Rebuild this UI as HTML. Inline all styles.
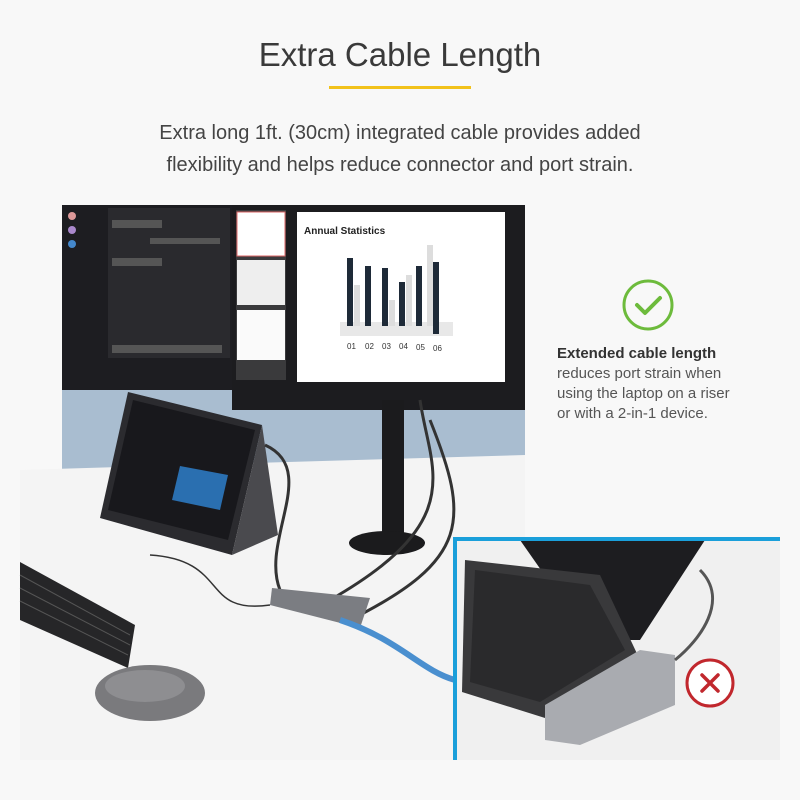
<!DOCTYPE html>
<html><head><style>
body{margin:0;width:800px;height:800px;background:#f8f8f8;position:relative;overflow:hidden;font-family:"Liberation Sans",sans-serif}
.t{position:absolute;left:0;width:800px;text-align:center;color:#333}
</style></head><body>
<div class="t" style="top:36px;font-size:33px;font-weight:300;color:#3a3a3a">Extra Cable Length</div>
<div style="position:absolute;left:329px;top:86px;width:142px;height:3px;background:#f2c21b"></div>
<div class="t" style="top:117px;font-size:20px;line-height:32px;color:#444">Extra long 1ft. (30cm) integrated cable provides added<br>flexibility and helps reduce connector and port strain.</div>

<svg style="position:absolute;left:0;top:0" width="800" height="800">
<rect x="62" y="380" width="463" height="90" fill="#a9bdd0"/>
<polygon points="20,470 525,455 525,760 20,760" fill="#f4f4f4"/>
<!-- monitor 1 -->
<rect x="62" y="205" width="172" height="185" fill="#1d1d21"/>
<rect x="108" y="208" width="122" height="150" fill="#2a2a2e"/>
<g fill="#555"><rect x="68" y="212" width="8" height="8" rx="4" fill="#d99"/><rect x="68" y="226" width="8" height="8" rx="4" fill="#a8c"/><rect x="68" y="240" width="8" height="8" rx="4" fill="#48c"/><rect x="112" y="220" width="50" height="8"/><rect x="150" y="238" width="70" height="6"/><rect x="112" y="258" width="50" height="8"/><rect x="112" y="345" width="110" height="8"/></g>
<!-- monitor 2 -->
<rect x="232" y="205" width="293" height="205" fill="#1c1c1f"/>
<rect x="236" y="210" width="50" height="170" fill="#3a3a3c"/>
<rect x="237" y="212" width="48" height="44" fill="#fff" stroke="#d66" />
<rect x="237" y="260" width="48" height="45" fill="#eee"/>
<rect x="237" y="310" width="48" height="50" fill="#fafafa"/>
<rect x="297" y="212" width="208" height="170" fill="#fff"/>
<text x="304" y="234" font-size="10" font-weight="bold" fill="#222" font-family="Liberation Sans">Annual Statistics</text>
<rect x="340" y="322" width="113" height="14" fill="#e8e8e8"/>
<g fill="#1e2a38"><rect x="347" y="258" width="6" height="68"/><rect x="365" y="266" width="6" height="60"/><rect x="382" y="268" width="6" height="58"/><rect x="399" y="282" width="6" height="44"/><rect x="416" y="266" width="6" height="60"/><rect x="433" y="262" width="6" height="72"/></g>
<g fill="#ddd"><rect x="354" y="285" width="6" height="41"/><rect x="389" y="300" width="6" height="26"/><rect x="406" y="275" width="6" height="51"/><rect x="427" y="245" width="6" height="81"/></g>
<g font-size="8" fill="#333" font-family="Liberation Sans"><text x="347" y="349">01</text><text x="365" y="349">02</text><text x="382" y="349">03</text><text x="399" y="349">04</text><text x="416" y="350">05</text><text x="433" y="351">06</text></g>
<rect x="382" y="400" width="22" height="140" fill="#1b1b1d"/>
<ellipse cx="387" cy="543" rx="38" ry="12" fill="#1b1b1d"/>
<!-- laptop -->
<polygon points="128,392 262,425 232,555 100,518" fill="#2b2b2f"/>
<polygon points="133,400 255,430 228,540 108,510" fill="#18181c"/>
<polygon points="180,466 228,475 220,510 172,500" fill="#2a6fb0"/>
<polygon points="262,425 278,535 232,555" fill="#4a4a4e"/>
<path d="M265 445 C320 470 260 540 280 590" stroke="#333" stroke-width="3" fill="none"/>
<path d="M420 400 C430 470 470 520 330 600 M430 420 C470 520 470 560 350 620" stroke="#333" stroke-width="3" fill="none"/>
<path d="M150 555 C230 560 200 615 270 605" stroke="#333" stroke-width="1.5" fill="none"/>
<polygon points="272,588 370,598 360,628 270,605" fill="#7b7d82"/>
<path d="M340 620 C400 640 420 670 455 680" stroke="#4a8fcf" stroke-width="6" fill="none"/>
<!-- keyboard -->
<polygon points="20,562 135,625 128,668 20,620" fill="#262628"/>
<g stroke="#555" stroke-width="1" fill="none"><path d="M20 575 L130 635 M20 588 L130 645 M20 601 L128 655"/></g>
<ellipse cx="150" cy="693" rx="55" ry="28" fill="#7a7a7d"/>
<ellipse cx="145" cy="686" rx="40" ry="16" fill="#8e8e91"/>
<!-- inset -->
<rect x="457" y="539" width="323" height="221" fill="#f0f0f0"/>
<polygon points="520,540 705,540 640,640 590,640" fill="#1d1d20"/>
<polygon points="465,560 600,575 640,660 545,718 462,692" fill="#39393b"/>
<polygon points="475,570 590,585 625,650 540,702 470,682" fill="#2a2a2c"/>
<polygon points="545,705 640,650 675,655 675,705 580,745 545,740" fill="#a9abb0"/>
<path d="M700 570 C730 600 700 640 675 660" stroke="#555" stroke-width="3" fill="none"/>
<path d="M455 760 V539 H780" stroke="#1a9fda" stroke-width="4" fill="none"/>
<circle cx="710" cy="683" r="23" fill="#fff" stroke="#c1272d" stroke-width="3"/>
<path d="M702 675 L718 691 M718 675 L702 691" stroke="#c1272d" stroke-width="3.5" stroke-linecap="round"/>
<circle cx="648" cy="305" r="24" fill="none" stroke="#6dbb3c" stroke-width="3"/>
<path d="M637 305 L645 313 L660 298" stroke="#6dbb3c" stroke-width="4" fill="none" stroke-linecap="round" stroke-linejoin="round"/>
</svg>
<div style="position:absolute;left:557px;top:344px;font-size:15px;line-height:20px;color:#555">
<b style="color:#333">Extended cable length</b><br>reduces port strain when<br>using the laptop on a riser<br>or with a 2-in-1 device.</div>
</body></html>
